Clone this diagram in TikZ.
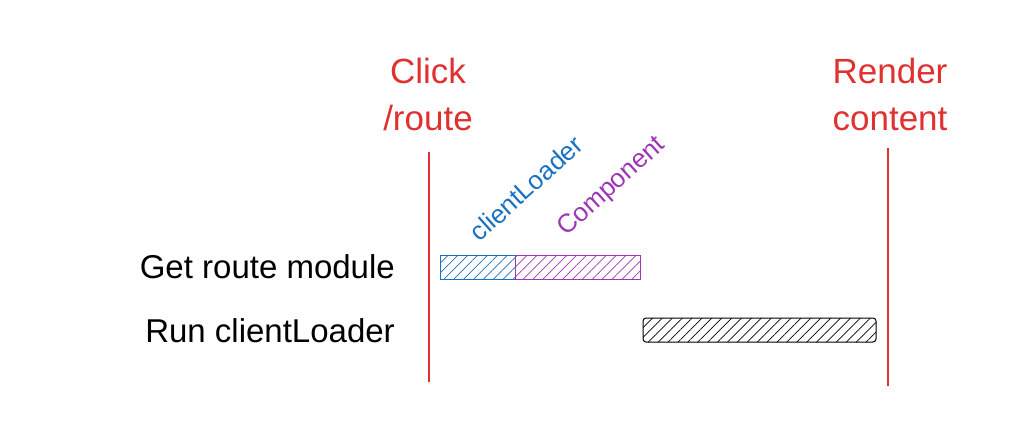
\documentclass[tikz,border=0pt]{standalone}
\usepackage{fontspec}
\setmainfont{Liberation Sans}
\usetikzlibrary{patterns.meta}
\definecolor{exred}{HTML}{E03131}
\definecolor{exblue}{HTML}{1971C2}
\definecolor{expurple}{HTML}{9C36B5}
\begin{document}
\begin{tikzpicture}[x=1pt,y=-1pt,
	marker/.style={draw=exred,line width=1.6pt},
	marklabel/.style={text=exred,align=center,font=\fontsize{35}{47}\selectfont,inner sep=0pt},
	rowlabel/.style={anchor=east,inner sep=0pt,font=\fontsize{33}{36}\selectfont},
	steplabel/.style={anchor=south west,inner sep=0pt,rotate=42,font=\fontsize{26}{28}\selectfont},
	hatch/.style={pattern={Lines[angle=45,distance=7pt,line width=0.7pt]},pattern color=#1},
	bar/.style={line width=1pt}]
		\useasboundingbox (0,0) rectangle (1035,436);
		% markers
		\coordinate (clicktop) at (429,152);
		\coordinate (clickbot) at (429,382);
		\coordinate (rendertop) at (888,148);
		\coordinate (renderbot) at (888,386);
		\draw [marker] (clicktop) -- (clickbot);
		\draw [marker] (rendertop) -- (renderbot);
		\node [marklabel] (click) at (428,94) {Click\\/route};
		\node [marklabel] (render) at (890,94) {Render\\content};
		% rows
		\node [rowlabel] (getmodule) at (395,267) {Get route module};
		\node [rowlabel] (runloader) at (395,331) {Run clientLoader};
		% bars
		\draw [bar,draw=exblue,hatch=exblue] (440,255) rectangle (515,279);
		\draw [bar,draw=expurple,hatch=expurple] (515,255) rectangle (640,279);
		\draw [bar,rounded corners=3pt,hatch=black] (643,318) rectangle (876,342);
		\node [steplabel,text=exblue] (loaderlabel) at (480,243) {clientLoader};
		\node [steplabel,text=expurple] (complabel) at (570,241) {Component};
	\end{tikzpicture}
\end{document}
